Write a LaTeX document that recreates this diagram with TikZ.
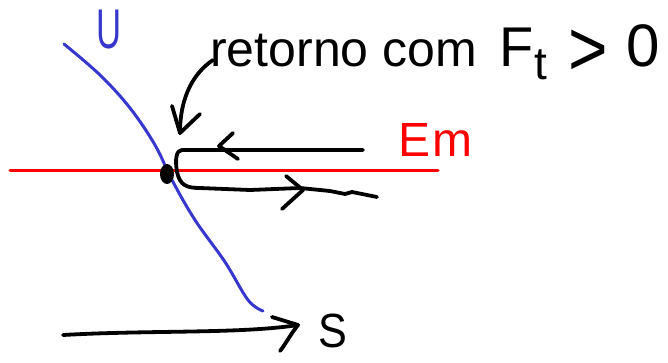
\documentclass[tikz,border=0pt]{standalone}
\usepackage{fontspec}
\setmainfont{Liberation Sans}
\definecolor{ublue}{RGB}{55,55,205}
\begin{document}
\begin{tikzpicture}[x=1pt,y=-1pt,line cap=round,line join=round,
  ink/.style={line width=3.8pt,black},
  bluepen/.style={line width=3pt,ublue},
  redpen/.style={line width=3pt,red},
  bigtext/.style={inner sep=0pt,font=\fontsize{48}{50}\selectfont}]
\useasboundingbox (0,0) rectangle (668,362);
% energy line
\coordinate (emL) at (10,170);
\coordinate (emR) at (438,170);
\draw[redpen] (emL) -- (emR);
\node[bigtext,red,anchor=base west] (em) at (398,156) {E\hspace{2pt}m};
% potential U
\draw[bluepen] plot[smooth,tension=0.6] coordinates {(64,44) (100,75) (130,108) (155,145) (172,180) (195,220) (225,262) (248,300) (263,311)};
\node[inner sep=0pt,font=\fontsize{56}{58}\selectfont,ublue,anchor=base west,xscale=0.62] (U) at (96,48) {U};
% turning point
\fill[black] (167,174) ellipse (7pt and 10pt);
\coordinate (tp) at (177,172);
% incoming (upper) branch
\coordinate (upR) at (363,150);
\draw[ink] (upR) -- (182,150) .. controls (176,150) and (175,160) .. (tp);
\draw[ink] (233,133) -- (219,146) -- (238,159);
% outgoing (lower) branch
\coordinate (loR) at (377,197);
\draw[ink] (tp) .. controls (180,185) and (186,188) .. (200,188) -- (250,190) -- (300,188) -- (330,191) -- (345,194) -- (352,192) -- (loR);
\draw[ink] (286,176) -- (303,190) -- (282,209);
% label and pointer
\node[bigtext,anchor=base west] (lbl) at (210,66) {{\fontsize{50}{50}\selectfont retorno com}\hspace{23pt}{\fontsize{56}{56}\selectfont F}\raisebox{-13pt}{\fontsize{46}{46}\selectfont t}\hspace{22pt}\raisebox{-9pt}{\scalebox{1.3}[1.5]{\fontsize{52}{52}\selectfont >}}\hspace{18pt}{\fontsize{60}{60}\selectfont 0}};
\coordinate (ptr) at (180,133);
\draw[ink] (213,60) .. controls (195,72) and (180,95) .. (ptr);
\draw[ink] (172,106) -- (ptr) -- (200,114);
% S axis
\coordinate (sL) at (63,335);
\coordinate (sR) at (298,325);
\draw[ink] (sL) .. controls (150,330) and (240,334) .. (sR);
\draw[ink] (272,317) -- (sR) .. controls (290,335) and (285,345) .. (280,351);
\node[bigtext,anchor=base west,xscale=0.9] (S) at (318,347) {S};
\end{tikzpicture}
\end{document}
